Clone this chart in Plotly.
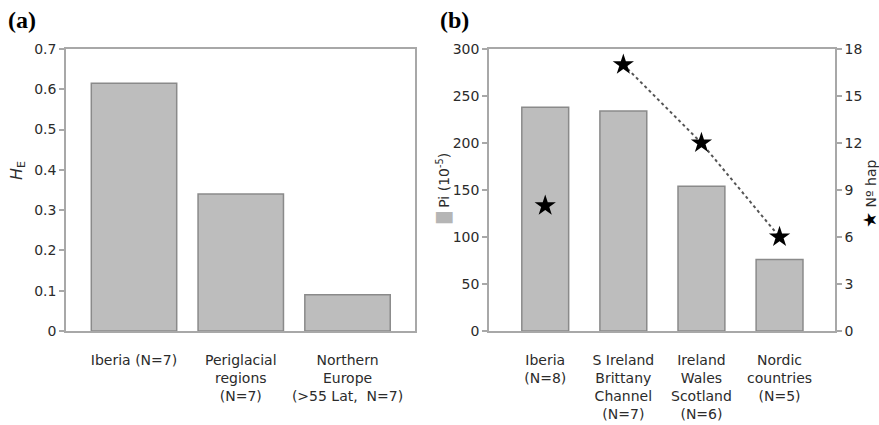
import plotly.graph_objects as go

# Panel (a)
cats_a = ["Iberia (N=7)", "Periglacial<br>regions<br>(N=7)", "Northern<br>Europe<br>(>55 Lat,  N=7)"]
he_vals = [0.615, 0.34, 0.09]

# Panel (b)
cats_b = ["Iberia<br>(N=8)", "S Ireland<br>Brittany<br>Channel<br>(N=7)", "Ireland<br>Wales<br>Scotland<br>(N=6)", "Nordic<br>countries<br>(N=5)"]
pi_vals = [238, 234, 154, 76]
nhap_vals = [8, 17, 12, 6]

W, H = 879, 425
BAR_FILL = "#bdbdbd"
BAR_LINE = "#8a8a8a"
AX_LINE = "#a8a8a8"
TXT = "#2b2b2b"
FONT = "DejaVu Sans, Verdana, sans-serif"

fig = go.Figure()
fig.add_trace(go.Bar(x=cats_a, y=he_vals, xaxis="x", yaxis="y", width=0.8,
                     marker=dict(color=BAR_FILL, line=dict(color=BAR_LINE, width=1.5)),
                     showlegend=False, hoverinfo="skip"))
fig.add_trace(go.Bar(x=cats_b, y=pi_vals, xaxis="x2", yaxis="y2", width=0.6,
                     marker=dict(color=BAR_FILL, line=dict(color=BAR_LINE, width=1.5)),
                     showlegend=False, hoverinfo="skip"))
fig.add_trace(go.Scatter(x=cats_b[1:], y=nhap_vals[1:], xaxis="x2", yaxis="y3", mode="lines",
                         line=dict(color="#555555", width=2, dash="dot"), showlegend=False,
                         hoverinfo="skip"))
fig.add_trace(go.Scatter(x=cats_b, y=nhap_vals, xaxis="x2", yaxis="y3", mode="markers",
                         marker=dict(symbol="star", size=16, color="black"), showlegend=False,
                         hoverinfo="skip"))

def px(x):
    return x / W

def py(y):
    return 1 - y / H

y_dom = [py(331), py(49)]
axis_common = dict(showline=True, linecolor=AX_LINE, linewidth=1.5, mirror=True,
                   showgrid=False, zeroline=False, ticks="outside", ticklen=5,
                   tickcolor=AX_LINE, tickwidth=1.5, automargin=False,
                   tickfont=dict(family=FONT, size=14, color=TXT))
xaxis_common = dict(type="category", showline=True, linecolor=AX_LINE, linewidth=1.5,
                    mirror=True, showgrid=False, ticks="outside", ticklen=15,
                    tickcolor="rgba(0,0,0,0)", automargin=False,
                    tickfont=dict(family=FONT, size=14, color=TXT))

fig.update_layout(
    width=W, height=H, margin=dict(l=0, r=0, t=0, b=0, autoexpand=False),
    paper_bgcolor="white", plot_bgcolor="white",
    xaxis=dict(domain=[px(66), px(415)], anchor="y", range=[-0.637, 2.632], **xaxis_common),
    yaxis=dict(domain=y_dom, anchor="x", range=[0, 0.7],
               tickvals=[0, 0.1, 0.2, 0.3, 0.4, 0.5, 0.6, 0.7],
               ticktext=["0", "0.1", "0.2", "0.3", "0.4", "0.5", "0.6", "0.7"],
               **axis_common),
    xaxis2=dict(domain=[px(489), px(835)], anchor="y2", range=[-0.72, 3.71], **xaxis_common),
    yaxis2=dict(domain=y_dom, anchor="x2", range=[0, 300], dtick=50, **axis_common),
    yaxis3=dict(domain=y_dom, anchor="x2", overlaying="y2", side="right",
                range=[0, 18], dtick=3, **axis_common),
)

annos = [
    dict(text="<b>(a)</b>", x=px(6), y=py(20), xanchor="left", yanchor="middle",
         font=dict(family="Liberation Serif, Times New Roman, serif", size=24, color="black")),
    dict(text="<b>(b)</b>", x=px(438), y=py(20), xanchor="left", yanchor="middle",
         font=dict(family="Liberation Serif, Times New Roman, serif", size=24, color="black")),
    dict(text="<i>H</i><sub>E</sub>", x=px(17), y=py(171), textangle=-90,
         xanchor="center", yanchor="middle", font=dict(family=FONT, size=16, color=TXT)),
    dict(text="<span style='color:#b5b5b5'>█</span> Pi (10<sup>-5</sup>)", x=px(443), y=py(189),
         textangle=-90, xanchor="center", yanchor="middle",
         font=dict(family=FONT, size=14, color=TXT)),
    dict(text="<span style='color:black;font-size:18px'>★</span> Nº hap", x=px(869), y=py(194),
         textangle=-90, xanchor="center", yanchor="middle",
         font=dict(family=FONT, size=14, color=TXT)),
]
for a in annos:
    a.update(xref="paper", yref="paper", showarrow=False)
fig.update_layout(annotations=annos)

fig.write_html("out.html", config={"displayModeBar": False},
               post_script="document.body.style.margin='0';document.body.style.overflow='hidden';")
